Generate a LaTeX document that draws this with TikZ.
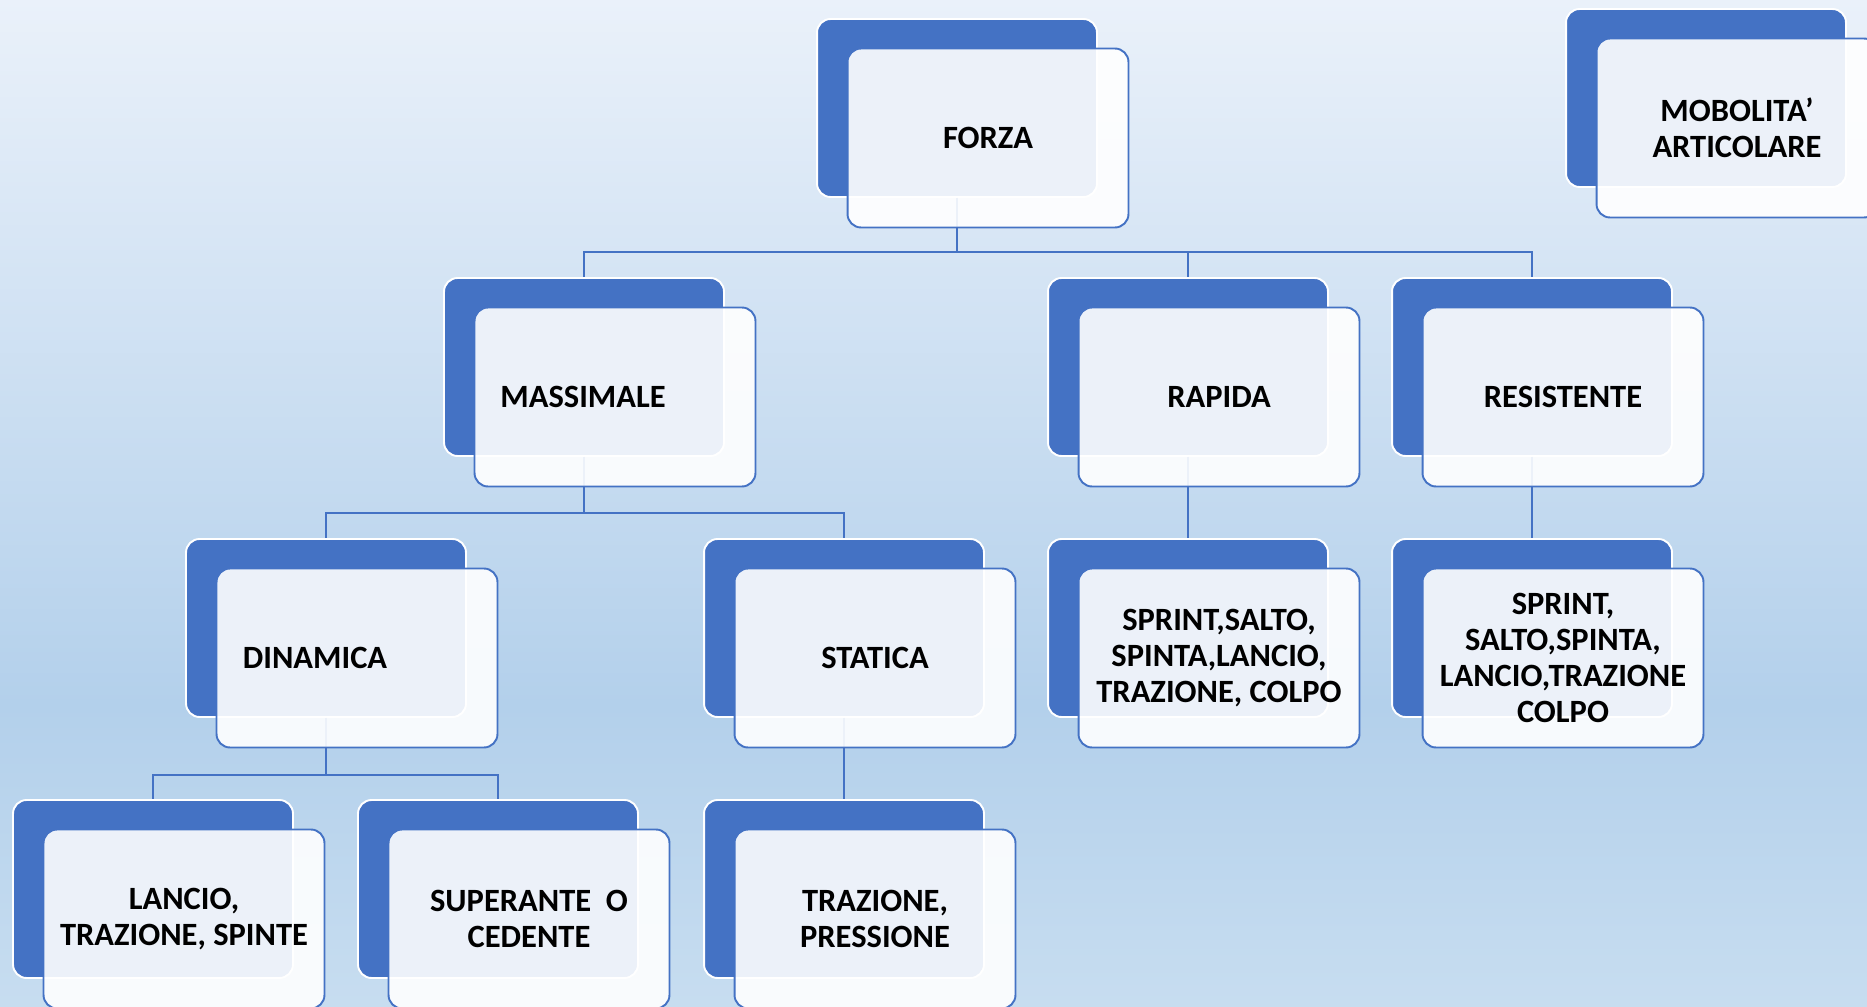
\documentclass[tikz,border=0pt]{standalone}
\usepackage{fontspec}
\setmainfont{Carlito}

\definecolor{boxblue}{HTML}{4472C4}
\definecolor{bgtop}{HTML}{EAF1FA}
\definecolor{bgmid}{HTML}{B3D0EB}
\definecolor{bgbot}{HTML}{C7DDF0}
\pgfdeclareverticalshading{bgfade}{100bp}{color(0bp)=(bgbot); color(25bp)=(bgbot); color(40bp)=(bgmid); color(75bp)=(bgtop); color(100bp)=(bgtop)}

\tikzset{
  back/.style={draw=white, line width=1.1pt, fill=boxblue, rounded corners=0.27cm,
    minimum width=5.6cm, minimum height=3.56cm},
  front/.style={draw=boxblue, line width=1.1pt, fill=white, fill opacity=0.9, text opacity=1,
    rounded corners=0.27cm, minimum width=5.62cm, minimum height=3.58cm, align=center,
    font=\bfseries\fontsize{18.5}{20.4}\selectfont},
  link/.style={draw=boxblue, line width=1.2pt}
}

\begin{document}
\begin{tikzpicture}[x=0.02cm, y=-0.02cm]
  \clip (0,0) rectangle (1867,1007);
  \shade[shading=bgfade] (0,0) rectangle (1867,1007);

  % back boxes
  \node[back] (forza-b) at (957,108) {};
  \node[back] (mobilita-b) at (1706,98) {};
  \node[back] (massimale-b) at (584,367) {};
  \node[back] (rapida-b) at (1188,367) {};
  \node[back] (resistente-b) at (1532,367) {};
  \node[back] (dinamica-b) at (326,628) {};
  \node[back] (statica-b) at (844,628) {};
  \node[back] (rapidaes-b) at (1188,628) {};
  \node[back] (resistentees-b) at (1532,628) {};
  \node[back] (dinamicaes-b) at (153,889) {};
  \node[back] (superante-b) at (498,889) {};
  \node[back] (staticaes-b) at (844,889) {};

  % links
  \draw[link] (forza-b.south) -- ++(0,54) -| (massimale-b.north);
  \draw[link] (forza-b.south) -- ++(0,54) -| (rapida-b.north);
  \draw[link] (forza-b.south) -- ++(0,54) -| (resistente-b.north);
  \draw[link] (massimale-b.south) -- ++(0,56) -| (dinamica-b.north);
  \draw[link] (massimale-b.south) -- ++(0,56) -| (statica-b.north);
  \draw[link] (rapida-b.south) -- (rapidaes-b.north);
  \draw[link] (resistente-b.south) -- (resistentees-b.north);
  \draw[link] (dinamica-b.south) -- ++(0,57) -| (dinamicaes-b.north);
  \draw[link] (dinamica-b.south) -- ++(0,57) -| (superante-b.north);
  \draw[link] (statica-b.south) -- (staticaes-b.north);

  % front boxes
  \node[front] (forza) at (988,138) {FORZA};
  \node[front] (mobilita) at (1737,128) {MOBOLITA’\\ARTICOLARE};
  \node[front] (massimale) at (615,397) {MASSIMALE\hspace{1.28cm}\mbox{}};
  \node[front] (rapida) at (1219,397) {RAPIDA};
  \node[front] (resistente) at (1563,397) {RESISTENTE};
  \node[front] (dinamica) at (357,658) {DINAMICA\hspace{1.68cm}\mbox{}};
  \node[front] (statica) at (875,658) {STATICA};
  \node[front] (rapidaes) at (1219,658) {SPRINT,SALTO,\\SPINTA,LANCIO,\\TRAZIONE, COLPO};
  \node[front] (resistentees) at (1563,658) {SPRINT,\\SALTO,SPINTA,\\LANCIO,TRAZIONE\\COLPO};
  \node[front] (dinamicaes) at (184,919) {LANCIO,\\TRAZIONE, SPINTE};
  \node[front] (superante) at (529,919) {SUPERANTE\ \ O\\CEDENTE};
  \node[front] (staticaes) at (875,919) {TRAZIONE,\\PRESSIONE};
\end{tikzpicture}
\end{document}
